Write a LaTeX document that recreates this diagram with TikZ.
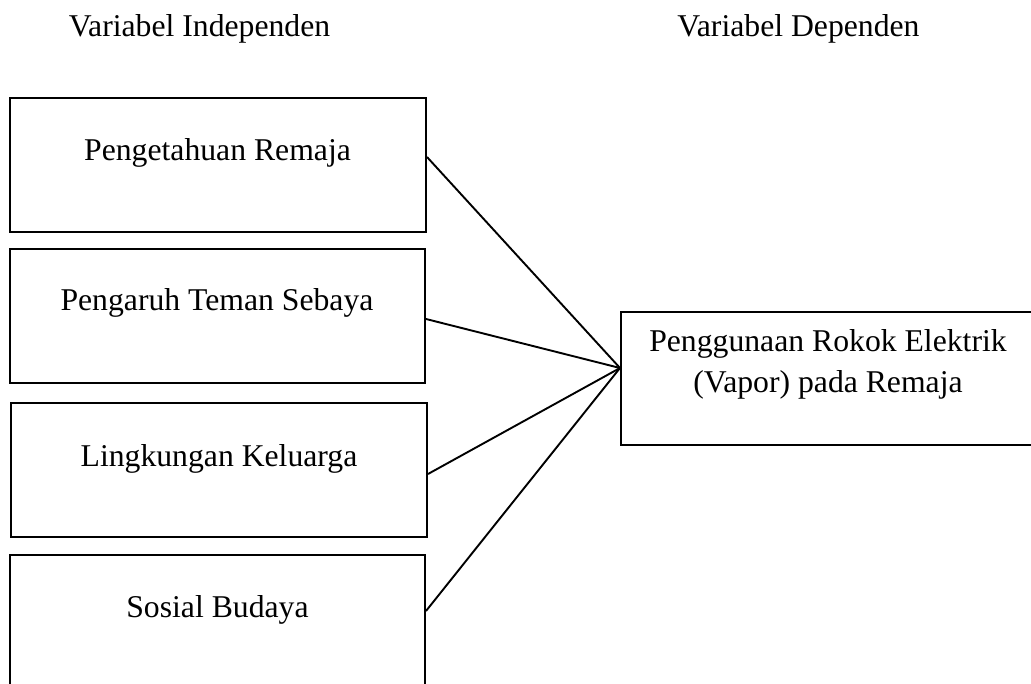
\documentclass[tikz,border=0pt]{standalone}
\usepackage{fontspec}
\setmainfont{Liberation Serif}
\begin{document}
\begin{tikzpicture}[x=1pt,y=-1pt,
  varbox/.style={draw=black,line width=2pt,rectangle,inner sep=0pt,minimum height=134pt},
  lbl/.style={anchor=base,inner sep=0pt,font=\fontsize{31.7}{41}\selectfont},
  conn/.style={draw=black,line width=1.9pt}]
\useasboundingbox (0,0) rectangle (1031,684);
\clip (0,0) rectangle (1031,684);
% headers
\node[lbl] (hind) at (199.5,37) {Variabel Independen};
\node[lbl] (hdep) at (798.5,37) {Variabel Dependen};
% boxes
\node[varbox,minimum width=416pt] (b1) at (218,165) {};
\node[varbox,minimum width=415pt] (b2) at (217.5,316) {};
\node[varbox,minimum width=416pt] (b3) at (219,470) {};
\node[varbox,minimum width=415pt] (b4) at (217.5,622) {};
\node[varbox,minimum width=414pt,minimum height=133pt] (dv) at (828,378.5) {};
% texts
\node[lbl] (t1) at (217.5,161) {Pengetahuan Remaja};
\node[lbl] (t2) at (217,311) {Pengaruh Teman Sebaya};
\node[lbl] (t3) at (219,466) {Lingkungan Keluarga};
\node[lbl] (t4) at (217.5,617) {Sosial Budaya};
\node[lbl,align=center] (t5) at (828,393) {Penggunaan Rokok Elektrik\\(Vapor) pada Remaja};
% connectors
\coordinate (hub) at ([yshift=10.5pt]dv.west);
\draw[conn] ([yshift=8pt]b1.east) -- (hub);
\draw[conn] ([yshift=-3pt]b2.east) -- (hub);
\draw[conn] ([yshift=-4pt]b3.east) -- (hub);
\draw[conn] ([yshift=11pt]b4.east) -- (hub);
\end{tikzpicture}
\end{document}
